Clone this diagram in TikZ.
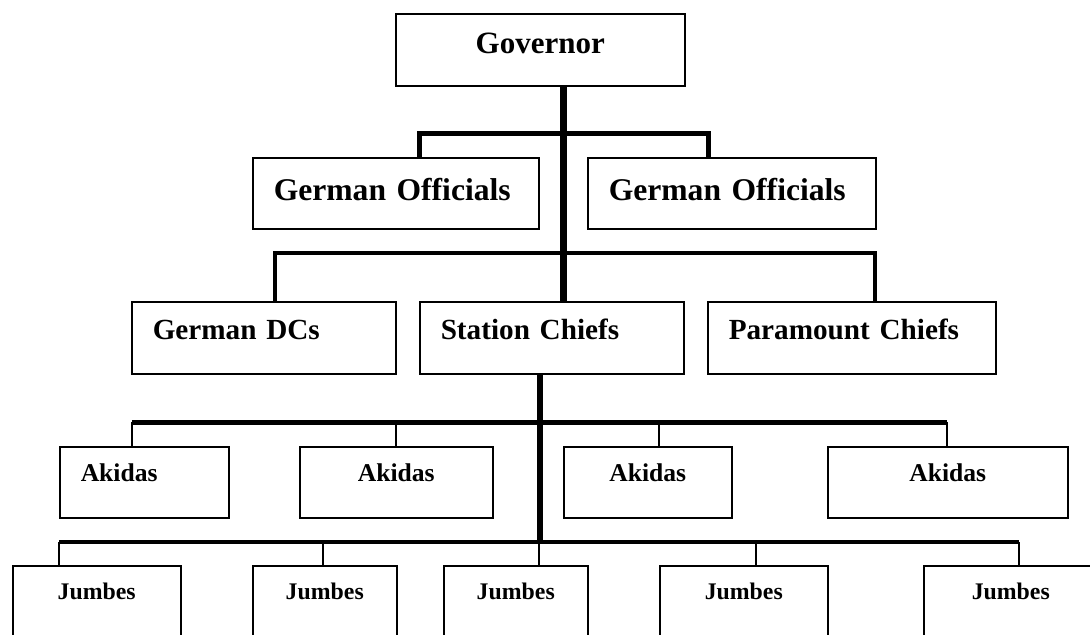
\documentclass[tikz,border=0pt]{standalone}
\usepackage{fontspec}
\setmainfont{Liberation Serif}
\tikzset{
orgbox/.style={draw, line width=0.75pt, anchor=north west, inner xsep=10.5pt, inner ysep=0pt},
govbox/.style={orgbox, align=center, text height=20pt, text depth=16pt, font=\bfseries\fontsize{15.5}{18}\selectfont},
offbox/.style={orgbox, align=left, text height=21.5pt, text depth=14pt, font=\bfseries\fontsize{15.8}{18}\selectfont},
chiefbox/.style={orgbox, align=left, text height=19pt, text depth=17pt, font=\bfseries\fontsize{14.6}{17}\selectfont},
akbox/.style={orgbox, align=center, text height=17.5pt, text depth=18pt, font=\bfseries\fontsize{12.8}{15}\selectfont},
jubox/.style={orgbox, align=center, text height=17pt, text depth=20pt, font=\bfseries\fontsize{11.9}{14}\selectfont},
trunk/.style={line width=3.5pt},
bar/.style={line width=2.5pt},
midbar/.style={line width=2pt},
akbar/.style={line width=2.5pt},
jubar/.style={line width=1.8pt},
drop/.style={line width=0.9pt}
}
\begin{document}
\begin{tikzpicture}[x=0.5pt,y=-0.5pt]
\useasboundingbox (0,0) rectangle (1090,634);
\clip (0,0) rectangle (1090,634);

\node[govbox, text width=123.5pt] (gov) at (395,13) {Governor};

\node[offbox, text width=122pt] (offl) at (252,157) {German Officials};
\node[offbox, text width=123pt] (offr) at (587,157) {German Officials};

\node[chiefbox, text width=111pt] (dcs) at (131,301) {German DCs};
\node[chiefbox, text width=111pt] (stat) at (419,301) {Station Chiefs};
\node[chiefbox, text width=123pt] (para) at (707,301) {Paramount Chiefs};

\node[akbox, align=left, text width=63.5pt] (ak1) at (59,446) {Akidas};
\node[akbox, text width=75.5pt] (ak2) at (299,446) {Akidas};
\node[akbox, text width=63pt] (ak3) at (563,446) {Akidas};
\node[akbox, text width=99pt] (ak4) at (827,446) {Akidas};

\node[jubox, text width=63pt] (ju1) at (12,565) {Jumbes};
\node[jubox, text width=51pt] (ju2) at (252,565) {Jumbes};
\node[jubox, text width=51pt] (ju3) at (443,565) {Jumbes};
\node[jubox, text width=63pt] (ju4) at (659,565) {Jumbes};
\node[jubox, text width=66pt] (ju5) at (923,565) {Jumbes};

\draw[trunk] (563,0 |- gov.south) -- (563,0 |- stat.north);
\draw[bar] (419,0 |- offl.north) |- (708,133) -- (708,0 |- offr.north);
\draw[midbar] (275,0 |- dcs.north) |- (875,253) -- (875,0 |- para.north);
\draw[trunk, line width=3pt] (540,0 |- stat.south) -- (540,542);

\draw[akbar] (132,422) -- (947,422);
\foreach \x/\n in {132/ak1,396/ak2,659/ak3,947/ak4}
  \draw[drop] (\x,422) -- (\x,0 |- \n.north);

\draw[jubar] (59,542) -- (1019,542);
\foreach \x/\n in {59/ju1,323/ju2,539/ju3,756/ju4,1019/ju5}
  \draw[drop] (\x,542) -- (\x,0 |- \n.north);

\end{tikzpicture}
\end{document}
